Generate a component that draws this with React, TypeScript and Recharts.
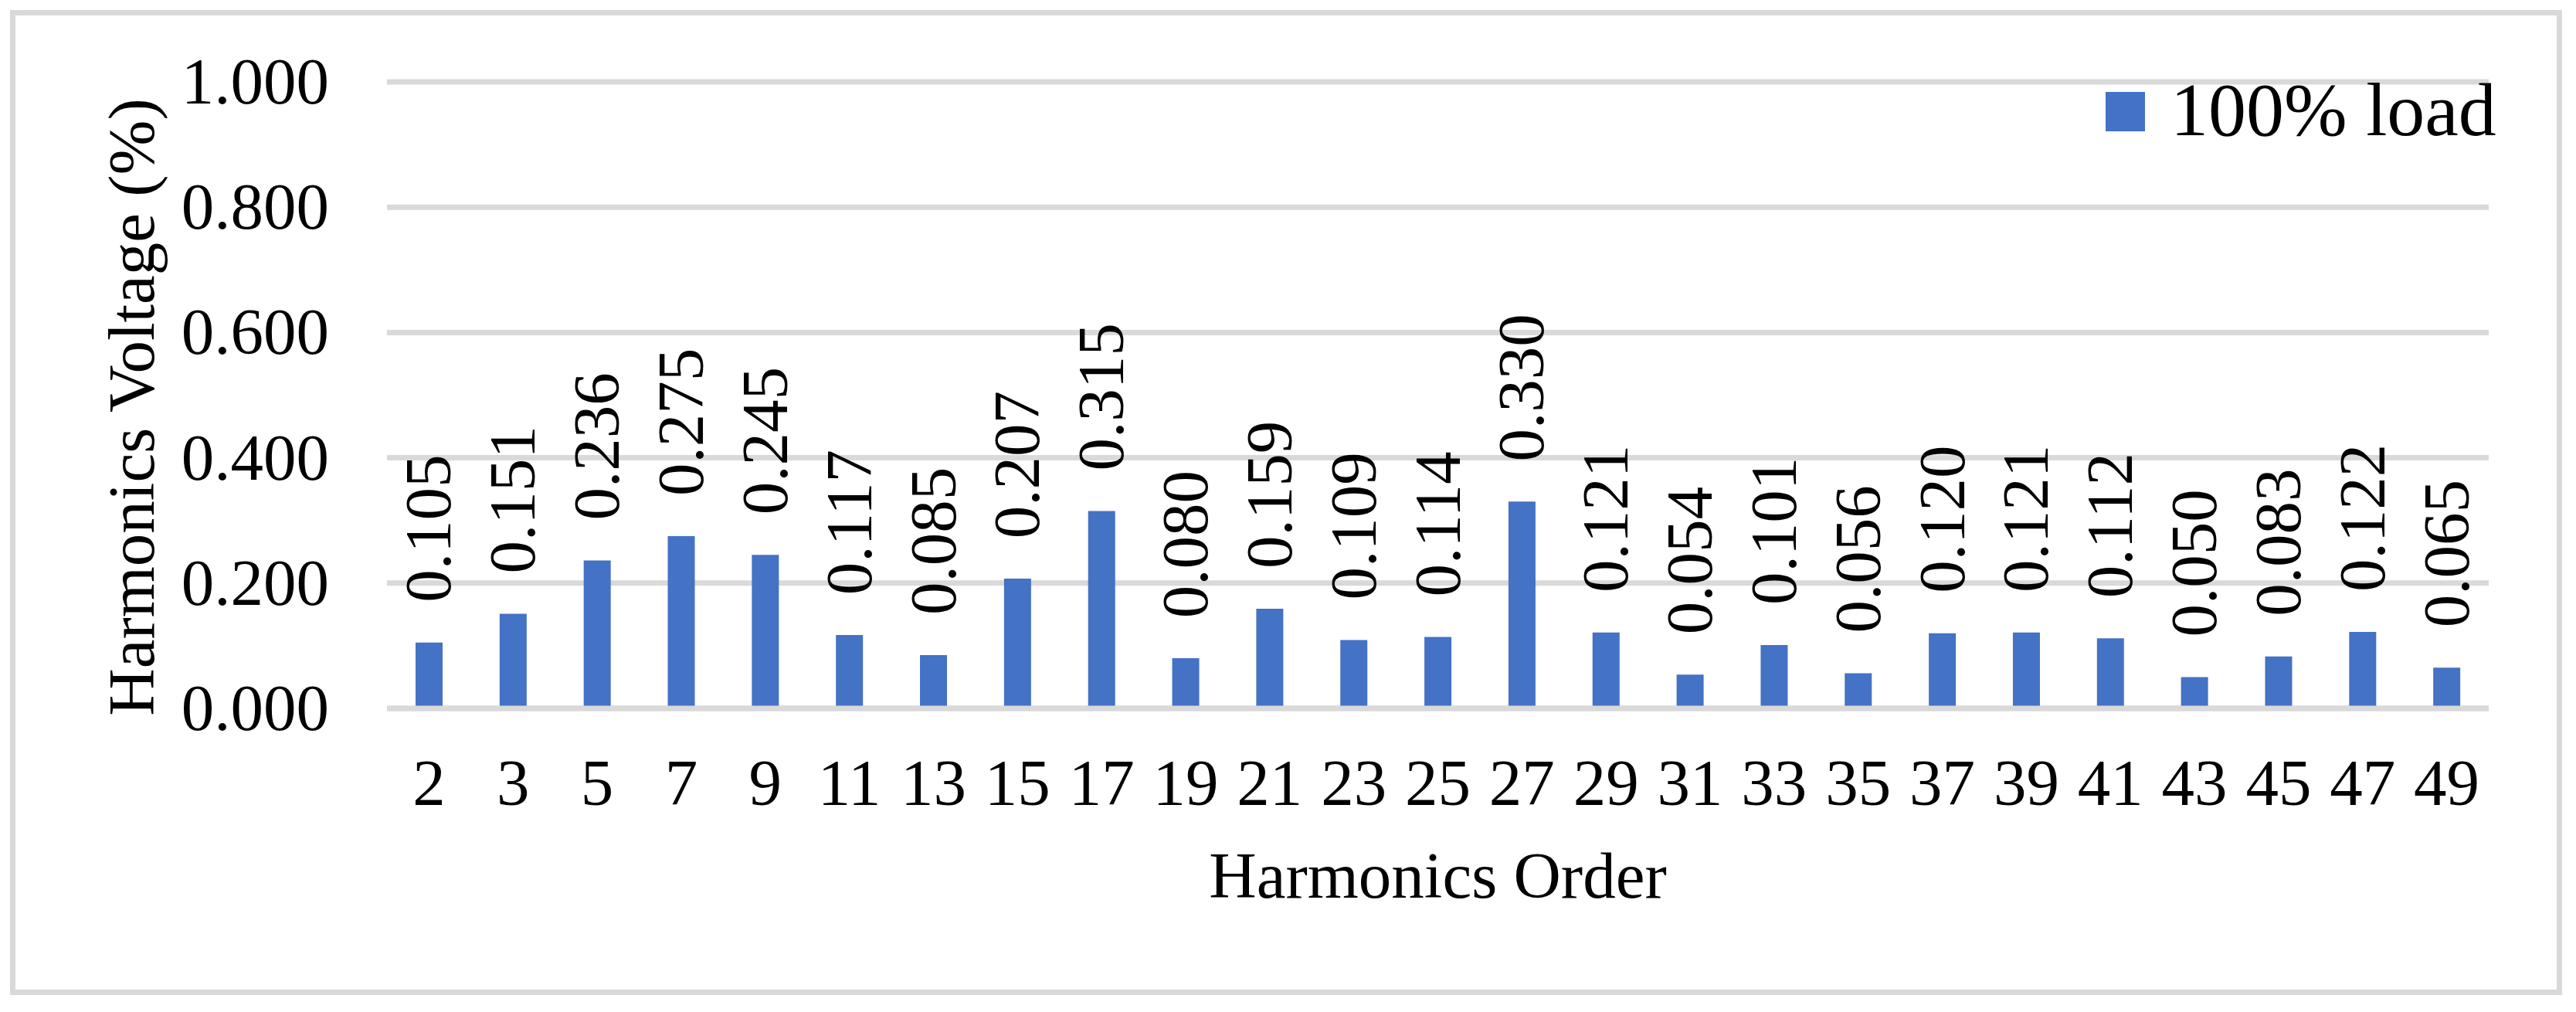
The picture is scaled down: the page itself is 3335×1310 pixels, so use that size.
import React from 'react';
import { BarChart, Bar, XAxis, YAxis, CartesianGrid, Legend, LabelList, Label } from 'recharts';

const categories = ['2', '3', '5', '7', '9', '11', '13', '15', '17', '19', '21', '23', '25', '27', '29', '31', '33', '35', '37', '39', '41', '43', '45', '47', '49'];
const load100 = [0.105, 0.151, 0.236, 0.275, 0.245, 0.117, 0.085, 0.207, 0.315, 0.08, 0.159, 0.109, 0.114, 0.33, 0.121, 0.054, 0.101, 0.056, 0.12, 0.121, 0.112, 0.05, 0.083, 0.122, 0.065];
const yTicks = [0, 0.2, 0.4, 0.6, 0.8, 1.0];
const seriesName = '100% load';
const xTitle = 'Harmonics Order';
const yTitle = 'Harmonics Voltage (%)';

const data = categories.map((c, i) => ({ order: c, value: load100[i] }));

const FONT = "'Liberation Serif', 'Times New Roman', serif";
const BAR = '#4472C4';
const GRID = '#D9D9D9';

const XTick = (props: any) => {
  const { x, y, payload } = props;
  return (
    <text x={x} y={y + 125} textAnchor="middle" fontFamily={FONT} fontSize={85} fill="#000">
      {payload.value}
    </text>
  );
};

const YTick = (props: any) => {
  const { x, y, payload } = props;
  return (
    <text x={x - 75} y={y + 28} textAnchor="end" fontFamily={FONT} fontSize={85} fill="#000">
      {Number(payload.value).toFixed(3)}
    </text>
  );
};

const ValueLabel = (props: any) => {
  const { x, y, width, value } = props;
  const tx = x + width / 2 + 28;
  const ty = y - 52;
  return (
    <text x={tx} y={ty} transform={`rotate(-90 ${tx} ${ty})`} textAnchor="start" fontFamily={FONT} fontSize={85} fill="#000">
      {Number(value).toFixed(3)}
    </text>
  );
};

const XTitle = (props: any) => {
  const vb = props.viewBox || {};
  const cx = vb.x + vb.width / 2;
  return (
    <text x={cx} y={1162} textAnchor="middle" fontFamily={FONT} fontSize={85} fill="#000">
      {xTitle}
    </text>
  );
};

const YTitle = () => {
  const tx = 199;
  const ty = 527;
  return (
    <text x={tx} y={ty} transform={`rotate(-90 ${tx} ${ty})`} textAnchor="middle" fontFamily={FONT} fontSize={85} fill="#000">
      {yTitle}
    </text>
  );
};

const LegendContent = (props: any) => {
  const item = (props.payload && props.payload[0]) || { value: seriesName, color: BAR };
  return (
    <svg width={560} height={180} style={{ display: 'block', overflow: 'visible' }}>
      <rect x={0} y={59} width={51} height={51} fill={item.color || BAR} />
      <text x={84} y={115} fontFamily={FONT} fontSize={98} fill="#000">
        {item.value}
      </text>
    </svg>
  );
};

export default function App() {
  return (
    <div style={{ position: 'absolute', left: 0, top: 0, width: 3335, height: 1310, background: '#fff' }}>
      <div
        style={{
          position: 'absolute',
          left: 13,
          top: 13,
          width: 3304,
          height: 1275,
          border: `7px solid ${GRID}`,
          boxSizing: 'border-box',
        }}
      />
      <div style={{ position: 'absolute', left: 0, top: 0 }}>
        <BarChart
          width={3335}
          height={1310}
          data={data}
          margin={{ top: 106, right: 113, left: 401, bottom: 293 }}
          barCategoryGap={0}
        >
          <CartesianGrid horizontal={true} vertical={false} stroke={GRID} strokeWidth={7} />
          <XAxis
            dataKey="order"
            height={100}
            tickSize={0}
            tickMargin={0}
            tickLine={false}
            axisLine={{ stroke: GRID, strokeWidth: 7 }}
            tick={<XTick />}
            interval={0}
          >
            <Label content={<XTitle />} />
          </XAxis>
          <YAxis
            width={100}
            domain={[0, 1]}
            ticks={yTicks}
            tickSize={0}
            tickMargin={0}
            tickLine={false}
            axisLine={false}
            tick={<YTick />}
            interval={0}
          >
            <Label content={<YTitle />} />
          </YAxis>
          <Legend
            layout="horizontal"
            align="center"
            verticalAlign="middle"
            content={<LegendContent />}
            wrapperStyle={{ position: 'absolute', left: 2726, top: 60, width: 560, height: 180 }}
          />
          <Bar dataKey="value" name={seriesName} fill={BAR} barSize={35} isAnimationActive={false}>
            <LabelList dataKey="value" content={<ValueLabel />} />
          </Bar>
        </BarChart>
      </div>
    </div>
  );
}
